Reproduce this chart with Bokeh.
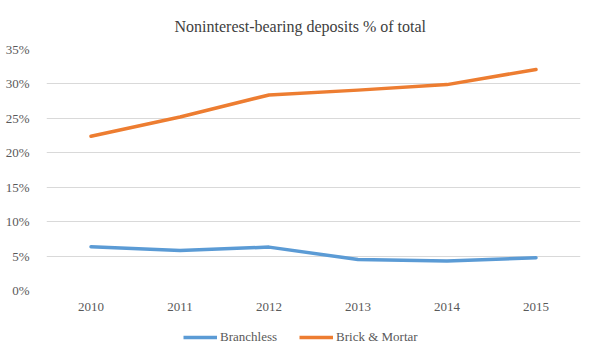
from bokeh.plotting import figure
from bokeh.layouts import column
from bokeh.models import ColumnDataSource, Legend, LegendItem, FixedTicker, NumeralTickFormatter, Range1d, FactorRange
from bokeh.embed import file_html
from bokeh.resources import INLINE

years = ["2010", "2011", "2012", "2013", "2014", "2015"]
branchless = [0.0636, 0.058, 0.063, 0.045, 0.043, 0.0475]
brick_mortar = [0.224, 0.252, 0.284, 0.291, 0.299, 0.321]
y_ticks = [0, 0.05, 0.10, 0.15, 0.20, 0.25, 0.30, 0.35]
series_names = ["Branchless", "Brick & Mortar"]
series_cols = ["branchless", "brick"]
colors = ["#5B9BD5", "#ED7D31"]

src = ColumnDataSource(dict(year=years, branchless=branchless, brick=brick_mortar))

FONT = "Liberation Serif"
W = 596
p = figure(width=W, height=318, x_range=FactorRange(*years, range_padding=0),
           y_range=Range1d(0, 0.35), output_backend="svg", toolbar_location=None,
           min_border_left=46, min_border_right=16, min_border_top=0, min_border_bottom=28)
p.title.text = "Noninterest-bearing  deposits % of total"
p.title.align = "left"
p.title.offset = 128
p.title.standoff = 30
p.title.text_font = FONT
p.title.text_font_size = "16px"
p.title.text_font_style = "normal"
p.title.text_color = "#404040"

p.outline_line_color = None
p.xgrid.grid_line_color = None
p.ygrid.grid_line_color = "#D9D9D9"
p.ygrid.grid_line_width = 1

p.yaxis.ticker = FixedTicker(ticks=y_ticks)
p.yaxis.formatter = NumeralTickFormatter(format="0%")
for ax in (p.xaxis[0], p.yaxis[0]):
    ax.axis_line_color = None
    ax.major_tick_line_color = None
    ax.minor_tick_line_color = None
    ax.major_label_text_font = FONT
    ax.major_label_text_font_size = "13px"
    ax.major_label_text_color = "#595959"
p.yaxis.major_label_standoff = 11
p.xaxis.major_label_standoff = 6

for col, c in zip(series_cols, colors):
    p.line("year", col, source=src, line_color=c, line_width=3.5, line_join="round", line_cap="round")

# legend strip below the chart (its lines fall outside its own y range, so only legend glyphs show)
pl = figure(width=W, height=37, x_range=FactorRange(*years), y_range=Range1d(1, 2),
            output_backend="svg", toolbar_location=None, min_border=0)
pl.axis.visible = False
pl.grid.visible = False
pl.outline_line_color = None
items = []
for name, col, c in zip(series_names, series_cols, colors):
    r = pl.line("year", col, source=src, line_color=c, line_width=3.5)
    items.append(LegendItem(label=name, renderers=[r]))
legend = Legend(items=items, orientation="horizontal", location=(137, 8),
                label_text_font=FONT, label_text_font_size="13px", label_text_color="#595959",
                glyph_width=34, label_standoff=3, spacing=22, border_line_color=None,
                background_fill_alpha=0, padding=0, margin=0)
pl.add_layout(legend)

open("out.html", "w").write(file_html(column(p, pl, spacing=0), INLINE))
